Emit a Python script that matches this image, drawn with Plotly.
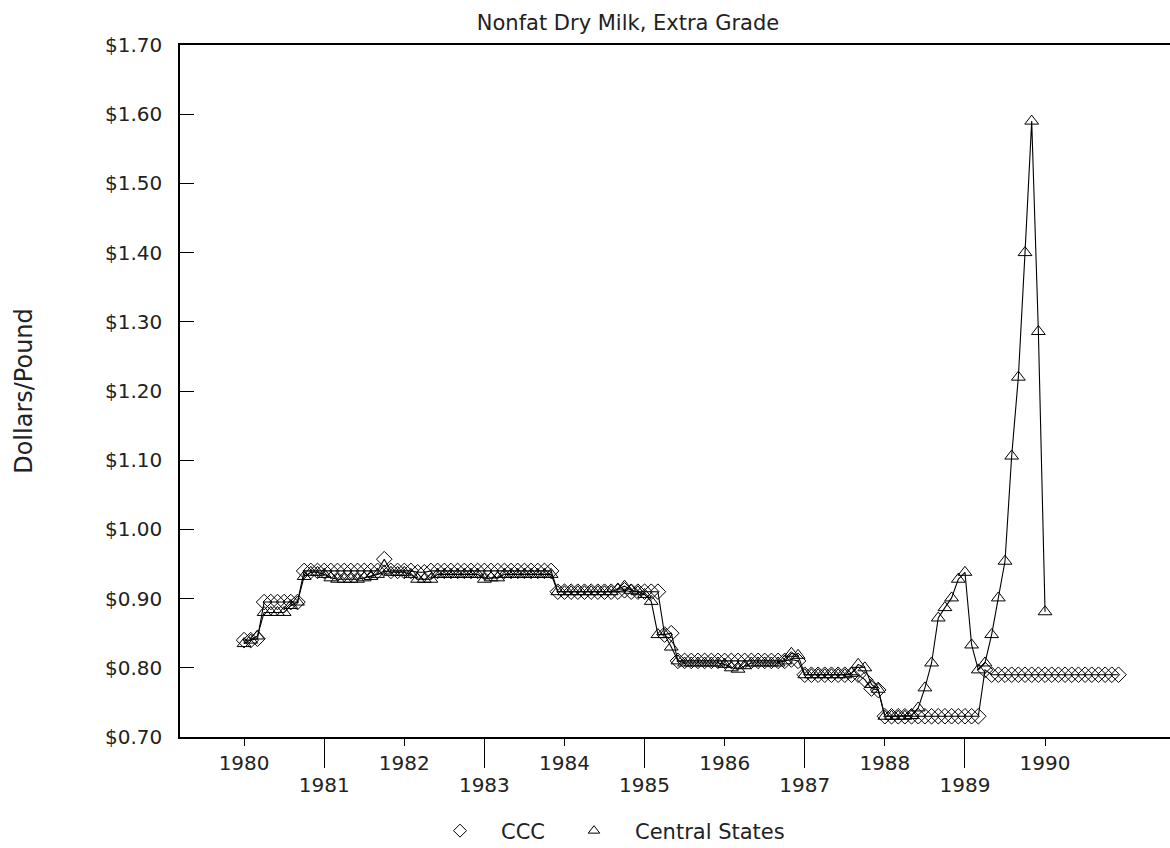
import numpy as np
import plotly.graph_objects as go

# ---------------- data (monthly, starting Jan 1980) ----------------
ccc_1980 = [0.840, 0.840, 0.842, 0.895, 0.895, 0.895, 0.895, 0.895, 0.895, 0.940, 0.940, 0.940]
ccc_1981 = [0.940, 0.940, 0.940, 0.940, 0.940, 0.940, 0.940, 0.940, 0.940, 0.957, 0.940, 0.940]
ccc_1982 = [0.940, 0.940, 0.938, 0.938, 0.940, 0.940, 0.940, 0.940, 0.940, 0.940, 0.940, 0.940]
ccc_1983 = [0.940, 0.940, 0.940, 0.940, 0.940, 0.940, 0.940, 0.940, 0.940, 0.940, 0.940, 0.910]
ccc_1984 = [0.910, 0.910, 0.910, 0.910, 0.910, 0.910, 0.910, 0.910, 0.910, 0.912, 0.910, 0.910]
ccc_1985 = [0.910, 0.910, 0.910, 0.848, 0.850, 0.810, 0.810, 0.810, 0.810, 0.810, 0.810, 0.810]
ccc_1986 = [0.810, 0.810, 0.810, 0.810, 0.810, 0.810, 0.810, 0.810, 0.810, 0.810, 0.812, 0.810]
ccc_1987 = [0.790, 0.790, 0.790, 0.790, 0.790, 0.790, 0.790, 0.790, 0.790, 0.783, 0.770, 0.768]
ccc_1988 = [0.730, 0.730, 0.730, 0.730, 0.730, 0.730, 0.730, 0.730, 0.730, 0.730, 0.730, 0.730]
ccc_1989 = [0.730, 0.730, 0.730, 0.797, 0.790, 0.790, 0.790, 0.790, 0.790, 0.790, 0.790, 0.790]
ccc_1990 = [0.790, 0.790, 0.790, 0.790, 0.790, 0.790, 0.790, 0.790, 0.790, 0.790, 0.790, 0.790]

cs_1980 = [0.835, 0.840, 0.846, 0.880, 0.880, 0.880, 0.880, 0.890, 0.895, 0.932, 0.938, 0.938]
cs_1981 = [0.935, 0.930, 0.928, 0.928, 0.928, 0.928, 0.930, 0.932, 0.935, 0.940, 0.938, 0.938]
cs_1982 = [0.938, 0.935, 0.928, 0.928, 0.928, 0.935, 0.935, 0.935, 0.935, 0.935, 0.935, 0.935]
cs_1983 = [0.928, 0.930, 0.930, 0.935, 0.935, 0.935, 0.935, 0.935, 0.935, 0.935, 0.935, 0.910]
cs_1984 = [0.910, 0.910, 0.910, 0.910, 0.910, 0.910, 0.910, 0.910, 0.914, 0.918, 0.912, 0.910]
cs_1985 = [0.906, 0.896, 0.848, 0.848, 0.830, 0.810, 0.807, 0.807, 0.807, 0.807, 0.807, 0.807]
cs_1986 = [0.805, 0.800, 0.798, 0.803, 0.807, 0.807, 0.807, 0.807, 0.807, 0.810, 0.821, 0.818]
cs_1987 = [0.790, 0.790, 0.790, 0.790, 0.790, 0.790, 0.790, 0.792, 0.805, 0.800, 0.776, 0.769]
cs_1988 = [0.730, 0.730, 0.730, 0.730, 0.731, 0.742, 0.771, 0.807, 0.872, 0.887, 0.901, 0.928]
cs_1989 = [0.938, 0.833, 0.797, 0.807, 0.848, 0.901, 0.954, 1.106, 1.220, 1.400, 1.590, 1.286]
cs_1990 = [0.881]

ccc = (ccc_1980 + ccc_1981 + ccc_1982 + ccc_1983 + ccc_1984 + ccc_1985 +
       ccc_1986 + ccc_1987 + ccc_1988 + ccc_1989 + ccc_1990)
cs = (cs_1980 + cs_1981 + cs_1982 + cs_1983 + cs_1984 + cs_1985 +
      cs_1986 + cs_1987 + cs_1988 + cs_1989 + cs_1990)

start_year = 1980
x_ccc = start_year + np.arange(len(ccc)) / 12.0
x_cs = start_year + np.arange(len(cs)) / 12.0

even_years = [1980, 1982, 1984, 1986, 1988, 1990]
odd_years = [1981, 1983, 1985, 1987, 1989]
y_ticks = [0.70, 0.80, 0.90, 1.00, 1.10, 1.20, 1.30, 1.40, 1.50, 1.60, 1.70]

series_names = ["CCC", "Central States"]
title_text = "Nonfat Dry Milk, Extra Grade"
y_title = "Dollars/Pound"

# ---------------- figure ----------------
FONT = "DejaVu Sans"
INK = "#222222"
FS = 20
W, H = 1170, 848
L, R, T, B = 180, 0, 45, 111
x_range = [1979.2, 1991.56]

fig = go.Figure()

fig.add_trace(go.Scatter(
    x=x_ccc, y=ccc, mode="lines+markers", showlegend=False,
    line=dict(color="black", width=1.1),
    marker=dict(symbol="diamond-open", size=12, color="black", line=dict(width=1)),
))
fig.add_trace(go.Scatter(
    x=x_cs, y=cs, mode="lines+markers", showlegend=False,
    line=dict(color="black", width=1.1),
    marker=dict(symbol="triangle-up-open", size=12, color="black", line=dict(width=1)),
))
# legend entries (markers only, as in the original)
fig.add_trace(go.Scatter(
    x=[None], y=[None], mode="markers", name=series_names[0], legendwidth=47,
    marker=dict(symbol="diamond-open", size=10, color="black", line=dict(width=1)),
))
fig.add_trace(go.Scatter(
    x=[None], y=[None], mode="markers", name=series_names[1],
    marker=dict(symbol="triangle-up-open", size=10, color="black", line=dict(width=1)),
))

fig.update_layout(
    width=W, height=H,
    margin=dict(l=L, r=R, t=T, b=B, autoexpand=False),
    paper_bgcolor="white", plot_bgcolor="white",
    font=dict(family=FONT, size=FS, color=INK),
    title=dict(text=title_text, x=628 / W, xanchor="center", xref="container",
               y=1 - 23 / H, yanchor="middle", yref="container",
               font=dict(family=FONT, size=21, color=INK)),
    legend=dict(orientation="h", x=(419 - L) / (W - L), xanchor="left",
                y=-(831 - (H - B)) / (H - T - B), yanchor="middle",
                font=dict(family=FONT, size=21, color=INK),
                itemwidth=72, bgcolor="rgba(0,0,0,0)"),
    xaxis=dict(
        range=x_range, tickmode="array", tickvals=even_years,
        ticktext=[str(y) for y in even_years],
        ticks="outside", ticklen=7, tickwidth=1, tickcolor="black",
        showline=True, linecolor="black", linewidth=1.5, mirror=True,
        showgrid=False, zeroline=False, automargin=False,
        tickfont=dict(family=FONT, size=FS, color=INK),
    ),
    xaxis2=dict(
        range=x_range, overlaying="x", anchor="y", side="bottom",
        tickmode="array", tickvals=odd_years,
        ticktext=[str(y) for y in odd_years],
        ticks="outside", ticklen=30, tickwidth=1, tickcolor="black",
        showline=False, showgrid=False, zeroline=False, automargin=False,
        tickfont=dict(family=FONT, size=FS, color=INK),
    ),
    yaxis=dict(
        range=[0.70, 1.70], tickmode="array", tickvals=y_ticks,
        tickformat="$.2f", ticks="inside", ticklen=14, tickwidth=1, tickcolor="black",
        ticklabelstandoff=12,
        showline=True, linecolor="black", linewidth=1.5,
        showgrid=False, zeroline=False, automargin=False,
        tickfont=dict(family=FONT, size=FS, color=INK),
        title=dict(text=y_title, standoff=66, font=dict(family=FONT, size=24, color=INK)),
    ),
)

# invisible trace to activate the second x-axis
fig.add_trace(go.Scatter(x=[x_range[0]], y=[None], xaxis="x2", yaxis="y",
                         mode="markers", showlegend=False, hoverinfo="skip"))

fig.write_html("out.html")
